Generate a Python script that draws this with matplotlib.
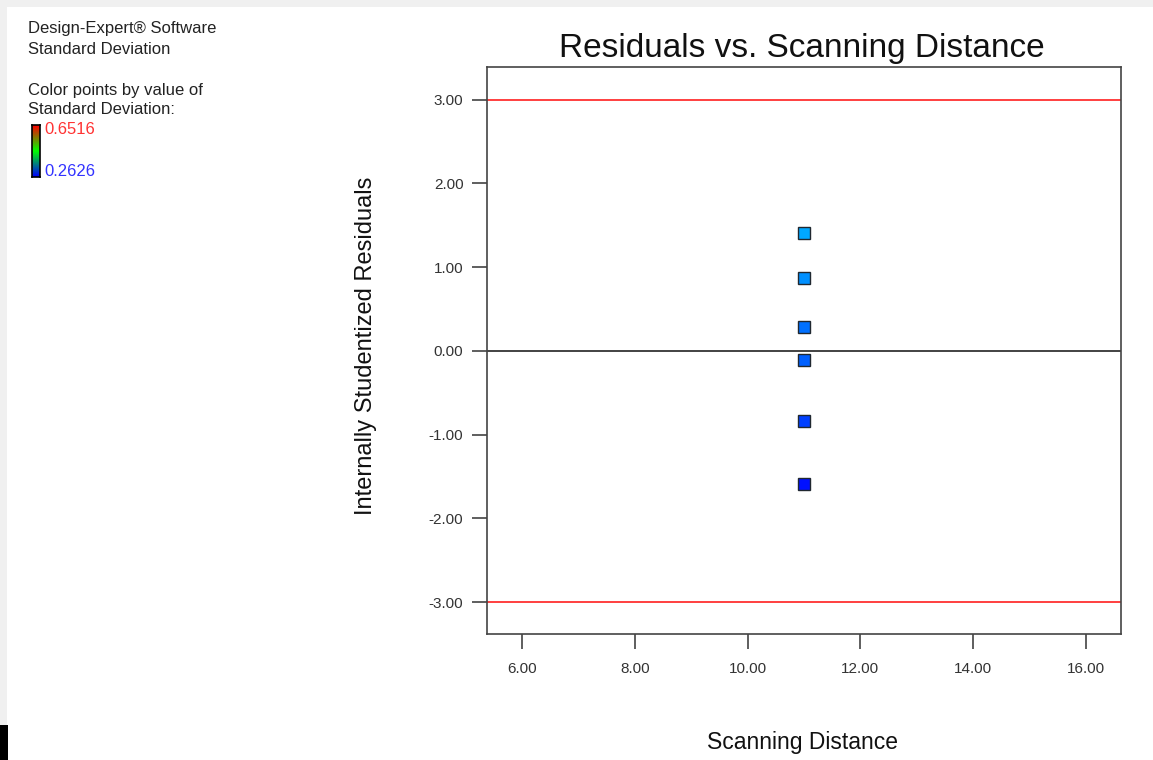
import matplotlib
matplotlib.use("Agg")
import matplotlib.pyplot as plt
import numpy as np
from matplotlib.patches import Rectangle
from matplotlib.colors import LinearSegmentedColormap

plt.rcParams['font.family'] = ['Liberation Sans', 'DejaVu Sans']

# Data
x_vals = [11.0, 11.0, 11.0, 11.0, 11.0, 11.0]
residuals = [1.41, 0.87, 0.29, -0.11, -0.84, -1.59]
point_colors = ['#00A8FF', '#0090FF', '#0070FF', '#0060FF', '#0040FF', '#0010FF']
x_ticks = [6, 8, 10, 12, 14, 16]
y_ticks = [-3, -2, -1, 0, 1, 2, 3]
limit_lines = [3.0, -3.0]
sd_max_label = "0.6516"
sd_min_label = "0.2626"

W, H = 1153, 760
fig = plt.figure(figsize=(W / 100, H / 100), dpi=100)
fig.patch.set_facecolor('white')

# light gray border strips (top, left) and black block bottom-left
fig.patches.append(Rectangle((0, 1 - 7 / H), 1, 7 / H, transform=fig.transFigure,
                             facecolor='#F0F0F0', edgecolor='none', zorder=-5))
fig.patches.append(Rectangle((0, 0), 7 / W, 1, transform=fig.transFigure,
                             facecolor='#F0F0F0', edgecolor='none', zorder=-5))
fig.patches.append(Rectangle((0, 0), 8 / W, 35 / H, transform=fig.transFigure,
                             facecolor='black', edgecolor='none', zorder=-4))

ax = fig.add_axes([487 / W, 1 - 634 / H, (1121 - 487) / W, (634 - 67) / H])
ax.set_xlim(5.38, 16.62)
ax.set_ylim(-3.38, 3.39)

for yl in limit_lines:
    ax.axhline(yl, color='#FF3030', lw=1.3, zorder=2)
ax.axhline(0, color='#222222', lw=1.2, zorder=2)

for xv, rv, c in zip(x_vals, residuals, point_colors):
    ax.plot([xv], [rv], marker='s', markersize=8.5, markerfacecolor=c,
            markeredgecolor='#202830', markeredgewidth=1.0, linestyle='none', zorder=3)

ax.set_xticks(x_ticks)
ax.set_xticklabels([f"{v:.2f}" for v in x_ticks])
ax.set_yticks(y_ticks)
ax.set_yticklabels([f"{v:.2f}" for v in y_ticks])
ax.tick_params(axis='both', direction='out', length=11, width=1.1, color='#333333',
               labelsize=11, labelcolor='#333333')
ax.tick_params(axis='x', pad=9)
ax.tick_params(axis='y', pad=6)
for s in ax.spines.values():
    s.set_color('#444444')
    s.set_linewidth(1.2)

fig.text((560 + 1043) / 2 / W, 1 - 48 / H, "Residuals vs. Scanning Distance",
         ha='center', va='center', fontsize=24, color='#111111')
fig.text((705 + 900) / 2 / W, 1 - 743 / H, "Scanning Distance",
         ha='center', va='center', fontsize=16.5, color='#111111')
fig.text(366 / W, 1 - 346 / H, "Internally Studentized Residuals",
         ha='center', va='center', fontsize=17, rotation=90, color='#111111')

# left annotation text
fs = 12
fig.text(28 / W, 1 - 29 / H, "Design-Expert® Software", ha='left', va='center', fontsize=fs, color='#222222')
fig.text(28 / W, 1 - 49 / H, "Standard Deviation", ha='left', va='center', fontsize=fs, color='#222222')
fig.text(28 / W, 1 - 90 / H, "Color points by value of", ha='left', va='center', fontsize=fs, color='#222222')
fig.text(28 / W, 1 - 110 / H, "Standard Deviation:", ha='left', va='center', fontsize=fs, color='#222222')

# gradient colour bar
cmap = LinearSegmentedColormap.from_list('bgr', ['#0000FF', '#00FF00', '#FF0000'])
cax = fig.add_axes([32 / W, 1 - 177 / H, 8 / W, (177 - 125) / H])
grad = np.linspace(0, 1, 100).reshape(-1, 1)
cax.imshow(grad, aspect='auto', cmap=cmap, origin='lower')
cax.set_xticks([])
cax.set_yticks([])
for s in cax.spines.values():
    s.set_color('black')
    s.set_linewidth(1.2)
fig.text(44 / W, 1 - 130 / H, sd_max_label, ha='left', va='center', fontsize=fs, color='#FF3333')
fig.text(44 / W, 1 - 172 / H, sd_min_label, ha='left', va='center', fontsize=fs, color='#3333FF')

fig.savefig("out.png", dpi=100, facecolor=fig.get_facecolor())
